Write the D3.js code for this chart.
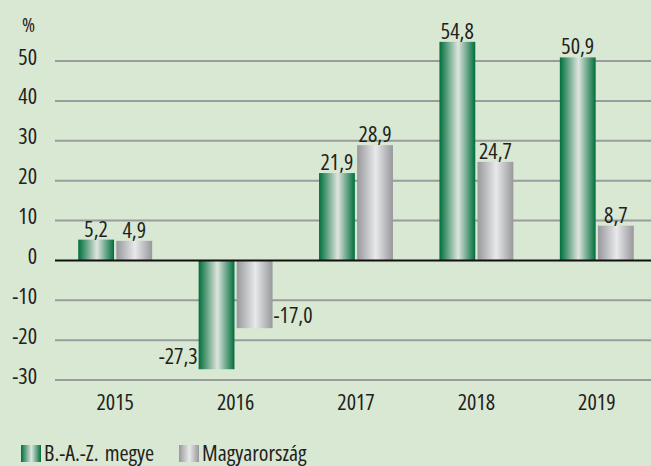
<!DOCTYPE html>
<html>
<head>
<meta charset="utf-8">
<script src="https://cdn.jsdelivr.net/npm/d3@7"></script>
<style>
  html, body { margin: 0; padding: 0; background: #d9e8d3; }
  svg { display: block; }
  text { font-family: "Open Sans", sans-serif; font-stretch: condensed; fill: #231f20; }
</style>
</head>
<body>
<div id="chart"></div>
<script>
// adatok
const years = ["2015", "2016", "2017", "2018", "2019"];
const baz = [5.2, -27.3, 21.9, 54.8, 50.9];
const hun = [4.9, -17.0, 28.9, 24.7, 8.7];
const seriesNames = ["B.-A.-Z. megye", "Magyarország"];
const yTicks = [-30, -20, -10, 0, 10, 20, 30, 40, 50];

const width = 651, height = 466;
const fontSize = 22;

const svg = d3.select("#chart").append("svg")
    .attr("width", width)
    .attr("height", height);

// színátmenetek (henger hatás)
const defs = svg.append("defs");
function cylinder(id, edge, mid) {
    const g = defs.append("linearGradient").attr("id", id)
        .attr("x1", "0%").attr("x2", "100%").attr("y1", "0%").attr("y2", "0%");
    g.append("stop").attr("offset", "0%").attr("stop-color", edge);
    g.append("stop").attr("offset", "52%").attr("stop-color", mid);
    g.append("stop").attr("offset", "100%").attr("stop-color", edge);
}
cylinder("grad-green", "#006e3b", "#dfe5df");
cylinder("grad-gray", "#98989c", "#e8e9eb");
const fills = ["url(#grad-green)", "url(#grad-gray)"];

// skálák
const x0 = d3.scaleBand()
    .domain(years)
    .range([55, 657])
    .paddingInner(0.386)
    .paddingOuter(0.193);

const x1 = d3.scaleBand()
    .domain([0, 1])
    .range([0, x0.bandwidth()])
    .paddingInner(0.06);

const y = d3.scaleLinear()
    .domain([-30, 50])
    .range([380, 61]);

// rácsvonalak
svg.append("g")
    .selectAll("line")
    .data(yTicks.filter(d => d !== 0))
    .enter()
    .append("line")
    .attr("x1", 55).attr("x2", width)
    .attr("y1", d => y(d)).attr("y2", d => y(d))
    .attr("stroke", "#9a9b9c")
    .attr("stroke-width", 2);

// y tengely feliratai
svg.append("g")
    .selectAll("text")
    .data(yTicks)
    .enter()
    .append("text")
    .attr("x", 37)
    .attr("y", d => y(d) + 3.5)
    .attr("text-anchor", "end")
    .attr("font-size", fontSize)
    .text(d => d);

svg.append("text")
    .attr("x", 22).attr("y", 32)
    .attr("font-size", 20)
    .text("%");

// oszlopok
const rows = years.map((yr, i) => ({ year: yr, values: [baz[i], hun[i]] }));

const groups = svg.append("g")
    .selectAll("g")
    .data(rows)
    .enter()
    .append("g")
    .attr("transform", d => `translate(${x0(d.year)},0)`);

groups.selectAll("rect")
    .data(d => d.values.map((v, k) => ({ v, k })))
    .enter()
    .append("rect")
    .attr("x", d => x1(d.k))
    .attr("width", x1.bandwidth())
    .attr("y", d => y(Math.max(0, d.v)))
    .attr("height", d => Math.abs(y(d.v) - y(0)))
    .attr("fill", d => fills[d.k]);

// értékcímkék
const fmt = v => d3.format(".1f")(v).replace(".", ",").replace("−", "-");
groups.selectAll("text")
    .data(d => d.values.map((v, k) => ({ v, k })))
    .enter()
    .append("text")
    .attr("font-size", fontSize)
    .attr("x", d => {
        if (d.v >= 0) return x1(d.k) + x1.bandwidth() / 2;
        return d.k === 0 ? x1(d.k) - 1 : x1(d.k) + x1.bandwidth() + 1;
    })
    .attr("y", d => d.v >= 0 ? y(d.v) - 3 : y(d.v) - 5)
    .attr("text-anchor", d => d.v >= 0 ? "middle" : (d.k === 0 ? "end" : "start"))
    .text(d => fmt(d.v));

// nulla vonal
svg.append("line")
    .attr("x1", 55).attr("x2", width)
    .attr("y1", y(0)).attr("y2", y(0))
    .attr("stroke", "#111")
    .attr("stroke-width", 2);

// x tengely feliratai
svg.append("g")
    .selectAll("text")
    .data(years)
    .enter()
    .append("text")
    .attr("x", d => x0(d) + x0.bandwidth() / 2)
    .attr("y", 410)
    .attr("text-anchor", "middle")
    .attr("font-size", fontSize)
    .text(d => d);

// jelmagyarázat
const legendX = [21, 179];
const legend = svg.append("g")
    .selectAll("g")
    .data(seriesNames)
    .enter()
    .append("g")
    .attr("transform", (d, i) => `translate(${legendX[i]},445)`);

legend.append("rect")
    .attr("width", 20).attr("height", 17)
    .attr("fill", (d, i) => fills[i]);

legend.append("text")
    .attr("x", 23).attr("y", 16)
    .attr("font-size", fontSize)
    .attr("word-spacing", 2)
    .text(d => d);
</script>
</body>
</html>
